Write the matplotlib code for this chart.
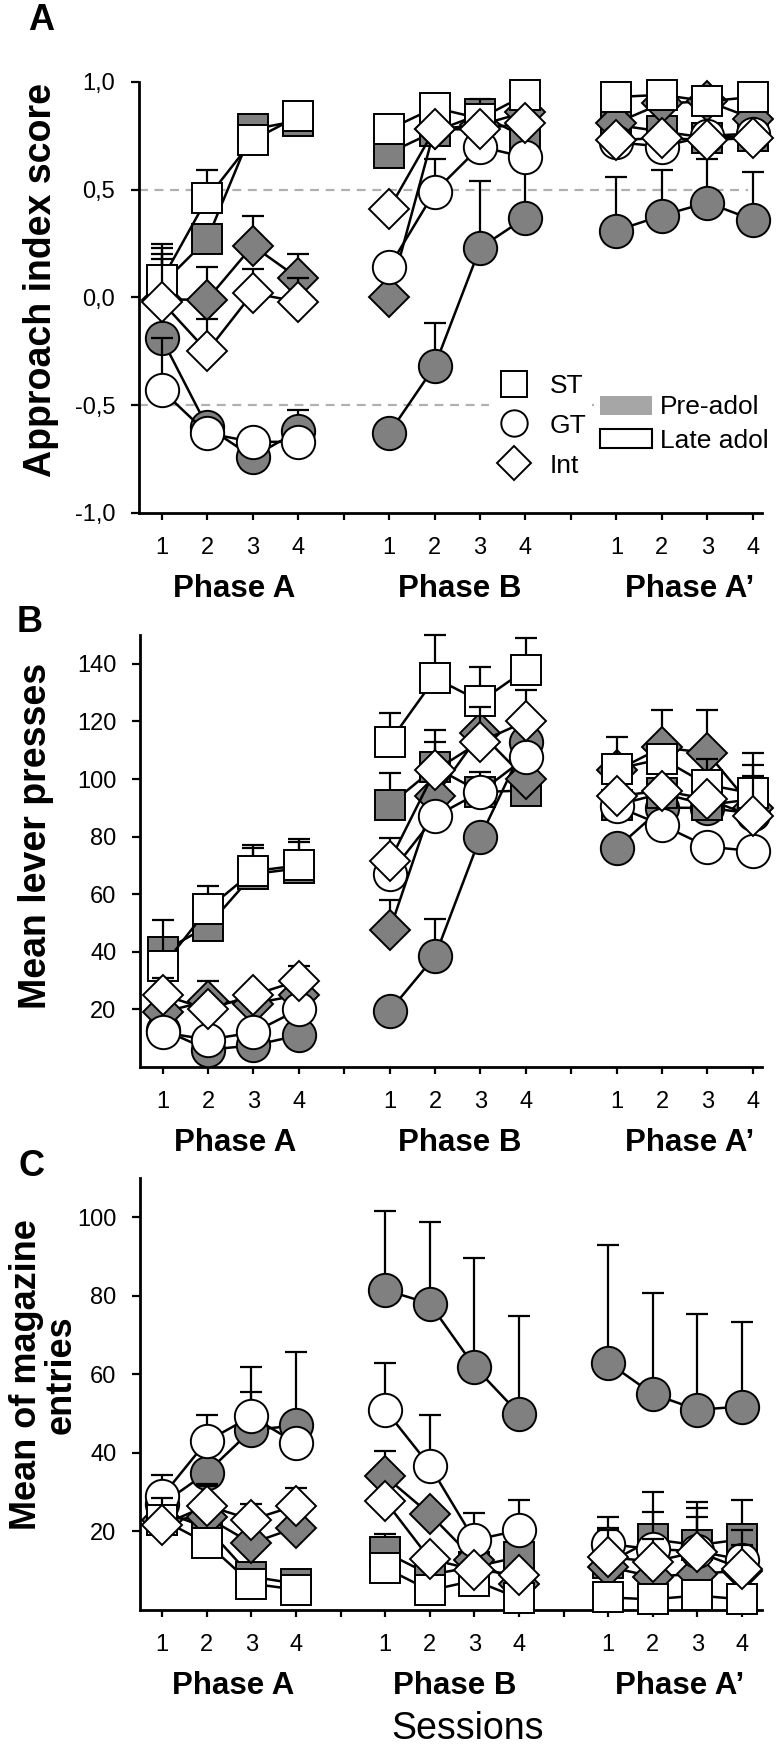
import matplotlib

matplotlib.use("Agg")
import matplotlib.pyplot as plt
from matplotlib.lines import Line2D
from matplotlib.patches import Patch

plt.rcParams["font.family"] = ["Liberation Sans", "DejaVu Sans"]

# session positions on the x axis (gaps at 5 and 10 separate the phases)
sessions = [1, 2, 3, 4, 6, 7, 8, 9, 11, 12, 13, 14]
tick_pos = list(range(1, 15))
tick_labels = ["1", "2", "3", "4", "", "1", "2", "3", "4", "", "1", "2", "3", "4"]
phase_names = ["Phase A", "Phase B", "Phase A\u2019"]
phase_centers = [2.6, 7.55, 12.6]

# ---- A: approach index score ----
appr_st_pre = [0.06, 0.27, 0.78, 0.82, 0.67, 0.77, 0.85, 0.74, 0.80, 0.77, 0.74, 0.75]
appr_st_late = [0.08, 0.46, 0.73, 0.84, 0.78, 0.88, 0.83, 0.94, 0.93, 0.94, 0.91, 0.93]
appr_gt_pre = [-0.19, -0.60, -0.74, -0.62, -0.63, -0.32, 0.23, 0.37, 0.31, 0.38, 0.44, 0.36]
appr_gt_late = [-0.43, -0.63, -0.67, -0.67, 0.14, 0.49, 0.70, 0.65, 0.72, 0.70, 0.75, 0.76]
appr_int_pre = [-0.01, -0.01, 0.24, 0.09, 0.00, 0.78, 0.80, 0.86, 0.81, 0.90, 0.91, 0.83]
appr_int_late = [-0.02, -0.25, 0.02, -0.02, 0.41, 0.78, 0.78, 0.81, 0.73, 0.74, 0.73, 0.74]

appr_st_pre_err = [0.17, 0, 0, 0, 0, 0, 0.04, 0, 0, 0, 0, 0]
appr_st_late_err = [0.17, 0.13, 0, 0, 0, 0, 0.09, 0, 0, 0, 0, 0]
appr_gt_pre_err = [0, 0, 0, 0.10, 0, 0.20, 0.31, 0.25, 0.25, 0.21, 0.20, 0.22]
appr_gt_late_err = [0.24, 0, 0, 0, 0, 0.15, 0, 0, 0, 0, 0, 0]
appr_int_pre_err = [0.21, 0.15, 0.14, 0.11, 0, 0, 0, 0, 0, 0, 0, 0]
appr_int_late_err = [0.20, 0.15, 0.11, 0.11, 0, 0, 0, 0, 0, 0, 0, 0]

# ---- B: lever presses ----
lever_st_pre = [40, 49, 67, 69, 91, 104, 95.5, 96, 91, 95, 91, 93]
lever_st_late = [35, 55, 68, 70, 113, 135, 127, 138, 103.5, 107, 98, 95]
lever_gt_pre = [13, 6, 7.5, 11, 19.5, 38.5, 80, 113, 76, 90, 90, 88]
lever_gt_late = [12, 9.5, 12, 20, 67, 87, 95.5, 107.5, 90.5, 84, 76.5, 75]
lever_int_pre = [19, 23, 22, 25, 47.5, 94, 116, 100, 103, 111, 109, 90]
lever_int_late = [25, 20, 25, 30, 71.5, 103, 113, 120, 94, 96, 93, 87]

lever_st_pre_err = [3, 0, 9, 9, 11, 13, 0, 0, 0, 0, 0, 12]
lever_st_late_err = [16, 8, 9, 9, 10, 15, 12, 11, 11, 0, 9, 14]
lever_gt_pre_err = [0, 0, 0, 0, 0, 13, 0, 0, 0, 0, 0, 0]
lever_gt_late_err = [0, 0, 0, 0, 0, 0, 7, 0, 0, 0, 0, 0]
lever_int_pre_err = [0, 7, 0, 0, 10.5, 0, 0, 0, 0, 13, 15, 0]
lever_int_late_err = [6, 0, 0, 5, 8, 10, 12, 11, 0, 0, 0, 14]

# ---- C: magazine entries ----
mag_st_pre = [25, 21, 8.5, 6.7, 14.7, 9, 11, 13.5, 12, 18, 16.5, 18]
mag_st_late = [23, 17, 6.7, 5.2, 10.7, 5, 7.5, 3, 3.2, 2.7, 3.7, 2.7]
mag_gt_pre = [27, 35, 45.8, 47, 81.5, 78, 62, 50, 63, 55, 51, 51.8]
mag_gt_late = [29, 43, 49.3, 42.5, 51, 36.7, 17.8, 20.3, 16.8, 15.5, 15, 12.8]
mag_int_pre = [23, 23.6, 17, 21, 34, 24.4, 12.8, 6.5, 11, 8.5, 9.2, 10]
mag_int_late = [21.6, 26.6, 23, 26.6, 27.8, 13, 10.2, 9, 13.5, 12.3, 14.8, 10.5]

mag_st_pre_err = [0, 11, 0, 0, 4.6, 0, 0, 0, 9, 12, 11, 10]
mag_st_late_err = [5.6, 0, 0, 0, 0, 0, 0, 0, 0, 0, 0, 0]
mag_gt_pre_err = [0, 0, 9.8, 18.7, 20.2, 20.7, 27.6, 24.8, 30, 25.6, 24.3, 21.5]
mag_gt_late_err = [5.5, 6.6, 12.7, 0, 12, 13, 6.8, 7.7, 6.8, 9.5, 11, 7.5]
mag_int_pre_err = [0, 0, 0, 0, 6.4, 0, 0, 0, 0, 0, 0, 0]
mag_int_late_err = [0, 5, 4, 4.4, 0, 0, 0, 0, 6.8, 5.7, 8.8, 6]

GRAY = "#808080"
MARKERS = {"ST": ("s", 21.5), "GT": ("o", 24), "Int": ("D", 20)}


def draw_panel(ax, series):
    z = 3
    for group, fill, values, err in series:
        marker, size = MARKERS[group]
        for k in range(3):
            xs = sessions[4 * k:4 * k + 4]
            ys = values[4 * k:4 * k + 4]
            es = err[4 * k:4 * k + 4]
            ax.errorbar(xs, ys, yerr=[[0] * 4, es], fmt="none", ecolor="black",
                        elinewidth=1.6, capsize=8, capthick=1.6, zorder=z, clip_on=False)
            ax.plot(xs, ys, color="black", lw=1.8, marker=marker, ms=size,
                    mfc=fill, mec="black", mew=1.4, zorder=z + 0.5, clip_on=False)
        z += 1


def style_axes(ax, ylim, yticks, yticklabels, xright=14.2):
    ax.set_xlim(0.5, xright)
    ax.set_ylim(*ylim)
    for side in ("top", "right"):
        ax.spines[side].set_visible(False)
    for side in ("left", "bottom"):
        ax.spines[side].set_linewidth(2)
    ax.set_xticks(tick_pos)
    ax.set_xticklabels(tick_labels)
    ax.set_yticks(yticks)
    ax.set_yticklabels(yticklabels)
    ax.tick_params(axis="x", length=5, width=1.6, pad=12, labelsize=17)
    ax.tick_params(axis="y", length=6, width=1.6, pad=11, labelsize=17)
    for name, c in zip(phase_names, phase_centers):
        ax.annotate(name, xy=(c, 0), xycoords=("data", "axes fraction"),
                    xytext=(0, -55), textcoords="offset points",
                    ha="center", va="center", fontsize=22.5, fontweight="bold")


fig = plt.figure(figsize=(7.76, 17.46), dpi=100)
ax_a = fig.add_axes([0.1791, 0.7062, 0.8028, 0.2469])
ax_b = fig.add_axes([0.1804, 0.3889, 0.8015, 0.2474])
ax_c = fig.add_axes([0.1804, 0.0779, 0.8015, 0.2474])

# panel A
draw_panel(ax_a, [
    ("GT", GRAY, appr_gt_pre, appr_gt_pre_err),
    ("ST", GRAY, appr_st_pre, appr_st_pre_err),
    ("Int", GRAY, appr_int_pre, appr_int_pre_err),
    ("GT", "white", appr_gt_late, appr_gt_late_err),
    ("ST", "white", appr_st_late, appr_st_late_err),
    ("Int", "white", appr_int_late, appr_int_late_err),
])
ax_a.hlines(0.5, 0.5, 13.9, colors="#b0b0b0", linestyles=(0, (4, 3)), lw=1.6, zorder=1)
ax_a.hlines(-0.5, 0.5, 14.2, colors="#b0b0b0", linestyles=(0, (4, 3)), lw=1.6, zorder=1)
style_axes(ax_a, (-1.0, 1.0), [-1.0, -0.5, 0.0, 0.5, 1.0],
           ["-1,0", "-0,5", "0,0", "0,5", "1,0"])

leg2 = ax_a.legend(
    handles=[Patch(facecolor="#a6a6a6", edgecolor="none"),
             Patch(facecolor="white", edgecolor="black", lw=1.5)],
    labels=["Pre-adol", "Late adol"], loc="upper left", bbox_to_anchor=(0.731, 0.285),
    fontsize=19, frameon=True, framealpha=1, facecolor="white", edgecolor="none",
    borderpad=0.2, borderaxespad=0, handlelength=2.0, handleheight=0.75,
    handletextpad=0.3, labelspacing=0.35)
leg2.set_zorder(20)
ax_a.add_artist(leg2)
leg1 = ax_a.legend(
    handles=[Line2D([], [], ls="none", marker="s", ms=19, mfc="white", mec="black", mew=1.4),
             Line2D([], [], ls="none", marker="o", ms=19, mfc="white", mec="black", mew=1.4),
             Line2D([], [], ls="none", marker="D", ms=17, mfc="white", mec="black", mew=1.4)],
    labels=["ST", "GT", "Int"], loc="upper left", bbox_to_anchor=(0.562, 0.335),
    fontsize=19, frameon=True, framealpha=1, facecolor="white", edgecolor="none",
    borderpad=0.2, borderaxespad=0, handlelength=1.5, handletextpad=0.6, labelspacing=0.6)
leg1.set_zorder(21)

# panel B
draw_panel(ax_b, [
    ("GT", GRAY, lever_gt_pre, lever_gt_pre_err),
    ("ST", GRAY, lever_st_pre, lever_st_pre_err),
    ("Int", GRAY, lever_int_pre, lever_int_pre_err),
    ("GT", "white", lever_gt_late, lever_gt_late_err),
    ("ST", "white", lever_st_late, lever_st_late_err),
    ("Int", "white", lever_int_late, lever_int_late_err),
])
style_axes(ax_b, (0, 150), [20, 40, 60, 80, 100, 120, 140],
           ["20", "40", "60", "80", "100", "120", "140"])

# panel C
draw_panel(ax_c, [
    ("GT", GRAY, mag_gt_pre, mag_gt_pre_err),
    ("ST", GRAY, mag_st_pre, mag_st_pre_err),
    ("Int", GRAY, mag_int_pre, mag_int_pre_err),
    ("GT", "white", mag_gt_late, mag_gt_late_err),
    ("ST", "white", mag_st_late, mag_st_late_err),
    ("Int", "white", mag_int_late, mag_int_late_err),
])
style_axes(ax_c, (0, 110), [20, 40, 60, 80, 100],
           ["20", "40", "60", "80", "100"], xright=14.45)

W, H = 776, 1746
fig.text(41 / W, 1 - 20 / H, "A", fontsize=26, fontweight="bold", ha="center", va="center")
fig.text(30 / W, 1 - 622 / H, "B", fontsize=26, fontweight="bold", ha="center", va="center")
fig.text(32 / W, 1 - 1166 / H, "C", fontsize=26, fontweight="bold", ha="center", va="center")

fig.text(41 / W, 1 - 280 / H, "Approach index score", rotation=90, fontsize=27,
         fontweight="bold", ha="center", va="center")
fig.text(36 / W, 1 - 836 / H, "Mean lever presses", rotation=90, fontsize=27,
         fontweight="bold", ha="center", va="center")
fig.text(44 / W, 1 - 1375 / H, "Mean of magazine\nentries", rotation=90, fontsize=26,
         fontweight="bold", ha="center", va="center", multialignment="center",
         linespacing=1.0)
fig.text(468 / W, 1 - 1729 / H, "Sessions", fontsize=27, ha="center", va="center")

fig.savefig("out.png", dpi=100)
plt.close(fig)
